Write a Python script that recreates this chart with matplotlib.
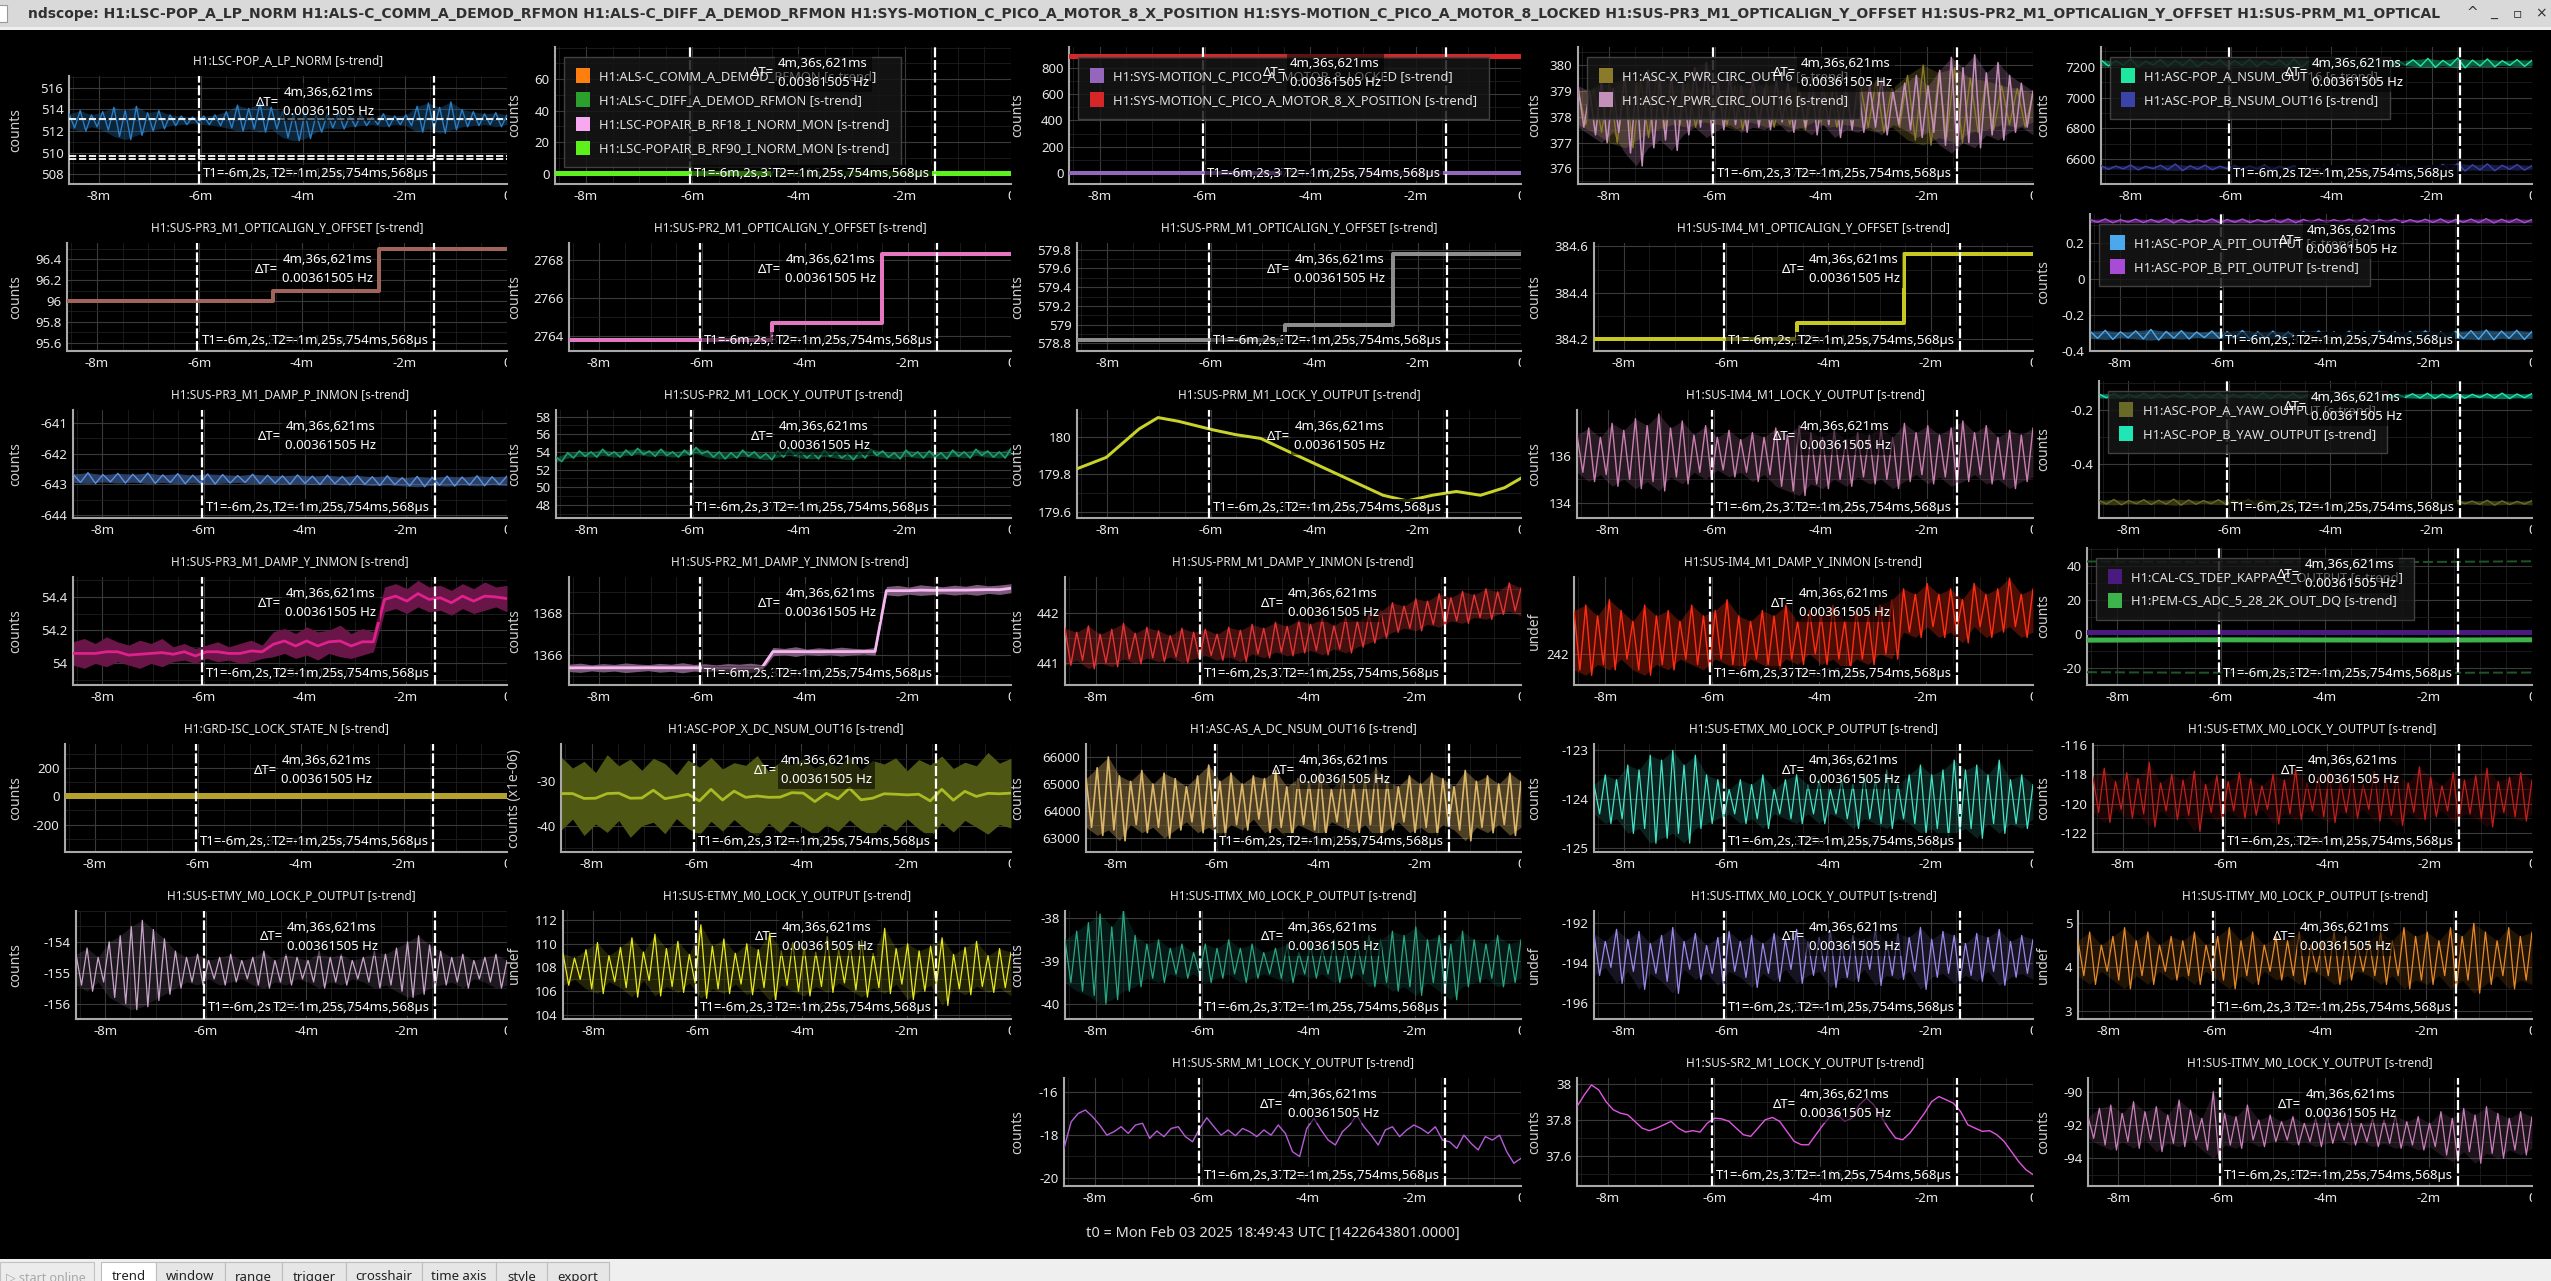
import numpy as np
import matplotlib
matplotlib.use('Agg')
import matplotlib.pyplot as plt
from matplotlib.patches import Rectangle, Patch
from matplotlib.ticker import FixedLocator, MultipleLocator, FuncFormatter
from matplotlib.transforms import Bbox, TransformedBbox

plt.rcParams['font.family'] = ['Noto Sans', 'DejaVu Sans']
plt.rcParams['axes.unicode_minus'] = False

# ---------------- data ----------------
t_span = (-515, 0)          # seconds before t0
x_ticks = [-480, -360, -240, -120, 0]
x_tick_labels = ['-8m', '-6m', '-4m', '-2m', '']
t1_cursor = -362.4
t2_cursor = -85.75
dt_label = '4m,36s,621ms\n0.00361505 Hz'
t1_label = 'T1=-6m,2s,375ms,162µs'
t2_label = 'T2=-1m,25s,754ms,568µs'
t0_label = 't0 = Mon Feb 03 2025 18:49:43 UTC [1422643801.0000]'
window_title = ('ndscope: H1:LSC-POP_A_LP_NORM H1:ALS-C_COMM_A_DEMOD_RFMON H1:ALS-C_DIFF_A_DEMOD_RFMON '
                'H1:SYS-MOTION_C_PICO_A_MOTOR_8_X_POSITION H1:SYS-MOTION_C_PICO_A_MOTOR_8_LOCKED '
                'H1:SUS-PR3_M1_OPTICALIGN_Y_OFFSET H1:SUS-PR2_M1_OPTICALIGN_Y_OFFSET H1:SUS-PRM_M1_OPTICAL')
tab_names = ['trend', 'window', 'range', 'trigger', 'crosshair', 'time axis', 'style', 'export']

# row 1
pop_a_lp_max = [513.6, 513.9, 513.5, 513.8, 514.2, 513.9, 514.3, 513.7, 513.9, 513.5,
                513.4, 513.3, 513.4, 513.5, 513.8, 514.4, 514.1, 514.6, 514.2, 513.8,
                513.6, 513.7, 513.5, 513.6, 513.7, 513.4, 513.5, 513.3, 513.6, 513.4,
                513.5, 514.3, 514.6, 514.2, 514.7, 514.0, 513.8, 513.6, 513.7, 513.5]
pop_a_lp_min = [512.3, 512.0, 512.4, 512.1, 511.5, 511.2, 511.6, 512.0, 512.2, 512.5,
                512.6, 512.7, 512.6, 512.5, 512.3, 512.0, 512.2, 511.9, 512.2, 511.4,
                511.1, 511.3, 511.9, 512.3, 512.2, 512.4, 512.5, 512.6, 512.4, 512.6,
                512.5, 511.9, 512.2, 511.8, 512.1, 512.4, 512.5, 512.6, 512.4, 512.6]
pop_a_lp_ycursors = [513.1, 509.65, 509.45]

als_comm = [0.3, 0.3, 0.3, 0.3]
als_diff = [0.3, 0.3, 0.3, 0.3]
popair_rf18 = [0.3, 0.3, 0.3, 0.3]
popair_rf90 = [0.3, 0.3, 0.3, 0.3]

pico_locked = [0.0, 0.0, 0.0, 0.0]
pico_x_position = [890.0, 890.0, 890.0, 890.0]

x_pwr_max = [379.0, 379.1, 379.3, 379.5, 379.4, 379.6, 379.2, 379.3, 379.1, 379.0,
             379.2, 379.1, 379.3, 379.0, 379.2, 379.1, 379.3, 379.0, 379.2, 379.4,
             379.1, 379.6, 380.0, 379.7, 379.9, 379.5, 379.4, 379.2, 379.1, 378.9]
x_pwr_min = [377.7, 377.4, 377.0, 376.8, 377.2, 377.5, 377.7, 377.6, 377.8, 377.7,
             377.5, 377.8, 377.6, 377.7, 377.5, 377.8, 377.6, 377.7, 377.6, 377.4,
             377.6, 377.1, 376.9, 377.2, 377.0, 377.4, 377.5, 377.7, 377.6, 377.8]
y_pwr_max = [379.2, 379.0, 379.4, 379.1, 379.6, 379.3, 379.8, 379.5, 379.7, 379.3,
             379.9, 380.1, 379.4, 379.6, 379.2, 379.5, 379.1, 379.4, 379.3, 379.0,
             379.5, 379.2, 379.6, 379.1, 379.4, 379.2, 379.5, 379.0, 379.3, 379.6,
             379.2, 379.8, 380.3, 379.9, 380.4, 379.7, 380.1, 379.6, 379.3, 379.0]
y_pwr_min = [377.6, 377.3, 377.0, 377.4, 376.6, 376.1, 376.8, 377.1, 376.7, 377.3,
             377.6, 377.2, 377.5, 377.7, 377.4, 377.6, 377.5, 377.8, 377.4, 377.6,
             377.3, 377.7, 377.2, 377.5, 377.4, 377.6, 377.3, 377.7, 377.5, 377.2,
             377.4, 376.9, 376.6, 377.0, 376.8, 377.3, 377.1, 377.4, 377.6, 377.3]

pop_a_nsum_max = [7245, 7240, 7252, 7238, 7248, 7242, 7250, 7237, 7246, 7241,
                  7249, 7239, 7244, 7251, 7240, 7247, 7238, 7245, 7243, 7250,
                  7239, 7246, 7255, 7242, 7258, 7244, 7251, 7240, 7247, 7243]
pop_a_nsum_min = [7205, 7210, 7200, 7212, 7203, 7208, 7199, 7211, 7204, 7209,
                  7201, 7212, 7206, 7198, 7210, 7203, 7211, 7205, 7207, 7199,
                  7211, 7204, 7196, 7208, 7193, 7206, 7200, 7210, 7203, 7207]
pop_b_nsum_max = [6558, 6555, 6562, 6553, 6560, 6568, 6557, 6561, 6554, 6559,
                  6556, 6562, 6553, 6558, 6555, 6560, 6557, 6554, 6559, 6556,
                  6561, 6555, 6558, 6566, 6572, 6563, 6569, 6560, 6565, 6558]
pop_b_nsum_min = [6533, 6536, 6529, 6538, 6531, 6525, 6534, 6530, 6537, 6532,
                  6535, 6529, 6538, 6533, 6536, 6531, 6534, 6537, 6532, 6535,
                  6530, 6536, 6533, 6527, 6522, 6530, 6524, 6533, 6528, 6535]

# row 2 (offset steps)
pr3_offset_t = [-515, -274, -150, 0]
pr3_offset_v = [96.0, 96.1, 96.5, 96.5]
pr2_offset_t = [-515, -278, -150, 0]
pr2_offset_v = [2763.8, 2764.7, 2768.3, 2768.3]
prm_offset_t = [-515, -274, -148, 0]
prm_offset_v = [578.835, 579.0, 579.75, 579.75]
im4_offset_t = [-515, -277, -151, 0]
im4_offset_v = [384.2, 384.27, 384.565, 384.565]

pop_b_pit_max = [0.330, 0.333, 0.329, 0.332, 0.330, 0.334, 0.331, 0.329, 0.333, 0.330,
                 0.332, 0.329, 0.331, 0.333, 0.330, 0.332, 0.329, 0.331, 0.334, 0.330,
                 0.332, 0.329, 0.331, 0.333, 0.330, 0.332, 0.334, 0.331, 0.333, 0.330]
pop_b_pit_min = [0.314, 0.311, 0.315, 0.312, 0.314, 0.310, 0.313, 0.315, 0.311, 0.314,
                 0.312, 0.315, 0.313, 0.311, 0.314, 0.312, 0.315, 0.313, 0.310, 0.314,
                 0.312, 0.315, 0.313, 0.311, 0.314, 0.312, 0.310, 0.313, 0.311, 0.314]
pop_a_pit_max = [-0.290, -0.285, -0.293, -0.288, -0.280, -0.291, -0.287, -0.294, -0.289, -0.292,
                 -0.286, -0.293, -0.290, -0.295, -0.291, -0.288, -0.294, -0.290, -0.292, -0.289,
                 -0.293, -0.291, -0.288, -0.294, -0.290, -0.287, -0.283, -0.289, -0.285, -0.291]
pop_a_pit_min = [-0.330, -0.336, -0.327, -0.333, -0.340, -0.329, -0.334, -0.326, -0.331, -0.328,
                 -0.335, -0.327, -0.330, -0.325, -0.329, -0.333, -0.326, -0.331, -0.328, -0.332,
                 -0.327, -0.330, -0.334, -0.326, -0.331, -0.335, -0.338, -0.330, -0.336, -0.329]

# row 3
pr3_damp_p_max = [-642.66, -642.62, -642.68, -642.64, -642.67, -642.63, -642.69, -642.65, -642.70, -642.66,
                  -642.68, -642.71, -642.67, -642.70, -642.72, -642.69, -642.73, -642.70, -642.74, -642.71,
                  -642.75, -642.72, -642.78, -642.74, -642.77, -642.73, -642.76, -642.72, -642.75, -642.73]
pr3_damp_p_min = [-642.94, -642.97, -642.92, -642.96, -642.93, -642.97, -642.94, -642.98, -642.95, -642.99,
                  -642.96, -642.94, -642.98, -642.96, -643.00, -642.97, -643.01, -642.98, -643.02, -643.00,
                  -643.04, -643.01, -643.05, -643.08, -643.03, -643.06, -643.02, -643.05, -643.01, -643.04]
pr2_lock_y_max = [53.4, 53.9, 54.1, 54.0, 54.3, 54.0, 54.2, 54.4, 54.1, 54.3,
                  54.0, 54.2, 54.5, 54.1, 54.0, 53.9, 54.2, 54.0, 53.8, 54.1,
                  54.3, 54.0, 53.9, 54.2, 54.0, 53.8, 54.0, 54.3, 54.1, 53.9,
                  54.2, 54.0, 54.1, 53.9, 54.2, 54.0, 54.3, 54.1, 54.0, 54.4]
pr2_lock_y_min = [52.9, 53.3, 53.5, 53.4, 53.6, 53.4, 53.6, 53.7, 53.5, 53.6,
                  53.4, 53.6, 53.8, 53.4, 53.2, 53.3, 53.5, 53.3, 53.1, 53.4,
                  53.6, 53.3, 53.2, 53.5, 53.3, 53.1, 53.3, 53.6, 53.4, 53.2,
                  53.5, 53.3, 53.4, 53.2, 53.5, 53.3, 53.6, 53.4, 53.3, 53.7]
prm_lock_y_t = [-515, -481, -443, -421, -397, -358, -331, -302, -274, -236,
                -198, -160, -132, -103, -75, -47, -19, 0]
prm_lock_y_v = [179.83, 179.89, 180.04, 180.10, 180.08, 180.036, 180.01, 179.99, 179.93, 179.85,
                179.77, 179.69, 179.66, 179.69, 179.71, 179.69, 179.73, 179.78]
im4_lock_y_max = [136.9, 137.2, 136.8, 137.4, 137.1, 137.6, 137.3, 137.8, 137.2, 137.5,
                  136.9, 137.3, 136.8, 137.1, 136.7, 137.0, 136.8, 137.2, 136.9, 137.3,
                  137.0, 136.8, 137.1, 136.7, 137.0, 136.9, 137.2, 136.8, 137.4, 137.0,
                  137.3, 136.9, 137.2, 137.5, 137.0, 137.3, 136.8, 137.1, 136.9, 137.2]
im4_lock_y_min = [135.3, 134.9, 135.2, 134.7, 135.0, 134.6, 134.9, 134.5, 135.1, 134.8,
                  135.3, 135.0, 135.4, 135.1, 135.3, 134.9, 135.2, 134.7, 134.5, 134.3,
                  134.8, 134.6, 135.0, 134.7, 135.1, 134.8, 135.0, 134.6, 134.9, 135.2,
                  134.8, 135.1, 134.7, 134.9, 135.2, 134.8, 135.0, 134.6, 134.9, 135.1]
pop_b_yaw_max = [-0.142, -0.140, -0.143, -0.139, -0.141, -0.144, -0.140, -0.142, -0.139, -0.143,
                 -0.141, -0.138, -0.142, -0.140, -0.144, -0.141, -0.143, -0.139, -0.142, -0.140,
                 -0.143, -0.141, -0.139, -0.142, -0.140, -0.143, -0.141, -0.139, -0.142, -0.140]
pop_b_yaw_min = [-0.156, -0.158, -0.155, -0.159, -0.157, -0.154, -0.158, -0.156, -0.159, -0.155,
                 -0.157, -0.160, -0.156, -0.158, -0.154, -0.157, -0.155, -0.159, -0.156, -0.158,
                 -0.155, -0.157, -0.159, -0.156, -0.158, -0.155, -0.157, -0.159, -0.156, -0.158]
pop_a_yaw_max = [-0.531, -0.528, -0.532, -0.529, -0.531, -0.527, -0.530, -0.532, -0.529, -0.531,
                 -0.528, -0.530, -0.533, -0.530, -0.532, -0.529, -0.531, -0.533, -0.530, -0.532,
                 -0.534, -0.531, -0.533, -0.535, -0.532, -0.534, -0.531, -0.533, -0.535, -0.532]
pop_a_yaw_min = [-0.545, -0.548, -0.544, -0.547, -0.545, -0.549, -0.546, -0.544, -0.547, -0.545,
                 -0.548, -0.546, -0.543, -0.546, -0.544, -0.547, -0.545, -0.543, -0.546, -0.544,
                 -0.542, -0.545, -0.543, -0.541, -0.544, -0.546, -0.549, -0.547, -0.545, -0.548]

# row 4
pr3_damp_y_max = [54.13, 54.15, 54.12, 54.16, 54.13, 54.11, 54.14, 54.12, 54.15, 54.10,
                  54.12, 54.09, 54.11, 54.13, 54.10, 54.12, 54.14, 54.11, 54.19, 54.21,
                  54.18, 54.22, 54.19, 54.20, 54.23, 54.18, 54.21, 54.19, 54.46, 54.48,
                  54.45, 54.50, 54.46, 54.47, 54.44, 54.48, 54.45, 54.49, 54.46, 54.47]
pr3_damp_y_min = [53.99, 53.97, 54.00, 53.98, 54.01, 53.99, 53.97, 54.00, 53.98, 54.01,
                  54.02, 54.00, 54.03, 54.01, 54.02, 54.00, 54.01, 54.03, 54.04, 54.06,
                  54.03, 54.05, 54.02, 54.06, 54.04, 54.03, 54.05, 54.07, 54.31, 54.33,
                  54.30, 54.34, 54.31, 54.32, 54.29, 54.33, 54.30, 54.32, 54.34, 54.31]
pr2_damp_y_max = [1365.55, 1365.60, 1365.52, 1365.58, 1365.54, 1365.61, 1365.56, 1365.53, 1365.59, 1365.55,
                  1365.62, 1365.54, 1365.57, 1365.52, 1365.58, 1365.55, 1365.60, 1365.53, 1366.35, 1366.30,
                  1366.38, 1366.27, 1366.33, 1366.29, 1366.36, 1366.31, 1366.28, 1366.34, 1369.25, 1369.30,
                  1369.22, 1369.33, 1369.27, 1369.24, 1369.31, 1369.26, 1369.35, 1369.28, 1369.32, 1369.38]
pr2_damp_y_min = [1365.20, 1365.16, 1365.23, 1365.18, 1365.22, 1365.15, 1365.20, 1365.24, 1365.17, 1365.21,
                  1365.14, 1365.22, 1365.19, 1365.23, 1365.17, 1365.21, 1365.16, 1365.22, 1365.95, 1366.00,
                  1365.92, 1366.02, 1365.96, 1366.01, 1365.94, 1365.99, 1366.03, 1365.97, 1368.85, 1368.80,
                  1368.88, 1368.82, 1368.86, 1368.90, 1368.84, 1368.89, 1368.83, 1368.92, 1368.87, 1368.95]
prm_damp_y_max = [441.70, 441.62, 441.75, 441.58, 441.68, 441.80, 441.60, 441.72, 441.65, 441.55,
                  441.70, 441.62, 441.68, 441.58, 441.72, 441.66, 441.78, 441.70, 441.82, 441.74,
                  441.86, 441.78, 441.90, 441.75, 441.92, 441.84, 441.98, 442.05, 442.22, 442.15,
                  442.30, 442.25, 442.40, 442.32, 442.45, 442.38, 442.50, 442.44, 442.62, 442.52]
prm_damp_y_min = [440.95, 441.05, 440.88, 441.00, 440.92, 441.08, 440.98, 441.10, 441.02, 441.12,
                  441.00, 441.08, 441.15, 441.05, 441.12, 441.02, 441.18, 441.10, 441.22, 441.14,
                  441.20, 441.25, 441.16, 441.28, 441.20, 441.32, 441.40, 441.50, 441.62, 441.70,
                  441.65, 441.78, 441.72, 441.85, 441.80, 441.92, 441.88, 441.98, 442.05, 441.95]
im4_damp_y_max = [242.08, 242.09, 242.07, 242.10, 242.08, 242.06, 242.09, 242.07, 242.08, 242.06,
                  242.09, 242.07, 242.08, 242.10, 242.07, 242.06, 242.08, 242.07, 242.09, 242.06,
                  242.08, 242.07, 242.09, 242.06, 242.08, 242.07, 242.09, 242.10, 242.12, 242.11,
                  242.13, 242.11, 242.12, 242.10, 242.13, 242.11, 242.12, 242.14, 242.11, 242.12]
im4_damp_y_min = [241.97, 241.96, 241.98, 241.97, 241.99, 241.97, 241.96, 241.98, 241.97, 241.99,
                  241.98, 241.97, 241.99, 241.98, 241.97, 241.99, 241.98, 241.97, 241.99, 241.98,
                  242.00, 241.98, 241.99, 241.97, 241.99, 241.98, 242.00, 241.99, 242.04, 242.03,
                  242.05, 242.03, 242.04, 242.02, 242.05, 242.03, 242.04, 242.05, 242.03, 242.04]
kappa_c = [1.2, 1.2, 1.2, 1.2, 1.2]
pem_adc_mean = [-3.6, -3.4, -3.5, -3.6, -3.4]
pem_adc_max = [42.5, 42.1, 42.4, 42.2, 42.6]
pem_adc_min = [-22.4, -22.7, -22.5, -22.8, -22.6]

# row 5
grd_state = [0, 0, 0, 0, 0]
pop_x_dc_max = [-24.5, -27.0, -25.5, -28.0, -24.0, -26.5, -25.0, -27.5, -24.8, -26.0,
                -28.5, -25.2, -26.8, -24.6, -27.2, -25.8, -26.4, -24.2, -27.8, -25.5,
                -26.2, -24.9, -27.0, -25.6, -26.6, -24.4, -27.4, -25.3, -26.1, -24.7,
                -27.6, -25.1, -26.3, -24.3, -27.1, -25.7, -26.5, -23.5, -25.9, -24.8]
pop_x_dc_min = [-41.0, -38.5, -42.2, -39.6, -41.5, -38.8, -42.6, -40.0, -39.2, -41.8,
                -38.4, -40.6, -42.0, -39.0, -41.2, -38.6, -40.8, -42.4, -39.4, -41.6,
                -38.9, -40.4, -42.1, -39.8, -41.3, -38.7, -40.9, -42.3, -39.5, -41.1,
                -38.5, -40.7, -42.5, -39.3, -41.4, -38.8, -40.3, -41.9, -39.7, -40.5]
as_a_dc_max = [65200, 65600, 66000, 65300, 65100, 65500, 65000, 65400, 65200, 64900,
               65300, 65700, 65100, 65400, 65000, 65300, 65200, 65500, 64900, 65200,
               65100, 65400, 64800, 65300, 65000, 65200, 65600, 65100, 64900, 65300,
               65000, 65400, 65200, 64900, 65500, 65100, 65300, 65000, 65400, 65100]
as_a_dc_min = [63400, 63100, 63300, 62900, 63500, 63200, 63400, 63000, 63300, 63600,
               63200, 63400, 63100, 63500, 63300, 63700, 63200, 63400, 63000, 63500,
               63300, 63100, 63600, 63400, 63200, 63500, 63000, 63300, 63600, 63200,
               63400, 63100, 63500, 63300, 62900, 63400, 63200, 63500, 63100, 63400]
etmx_p_max = [-123.7, -123.5, -123.6, -123.3, -123.4, -123.1, -123.2, -123.0, -123.3, -123.1,
              -123.5, -123.6, -123.8, -123.6, -123.7, -123.5, -123.8, -123.6, -123.5, -123.7,
              -123.6, -123.8, -123.6, -123.7, -123.5, -123.6, -123.4, -123.7, -123.5, -123.3,
              -123.5, -123.4, -123.2, -123.4, -123.3, -123.5, -123.2, -123.6, -123.5, -123.7]
etmx_p_min = [-124.3, -124.5, -124.4, -124.7, -124.6, -124.9, -124.8, -124.7, -124.9, -124.6,
              -124.5, -124.4, -124.3, -124.5, -124.4, -124.6, -124.3, -124.4, -124.5, -124.3,
              -124.5, -124.3, -124.4, -124.6, -124.4, -124.5, -124.6, -124.4, -124.5, -124.7,
              -124.6, -124.8, -124.7, -124.6, -124.8, -124.5, -124.7, -124.5, -124.6, -124.4]
etmx_y_max = [-118.2, -117.6, -118.5, -117.9, -118.3, -117.2, -118.6, -118.0, -118.4, -117.8,
              -118.7, -118.1, -118.5, -117.9, -118.3, -118.8, -118.0, -118.4, -117.7, -118.6,
              -118.2, -117.9, -118.5, -118.1, -118.7, -117.8, -118.3, -118.0, -118.6, -117.5,
              -118.2, -118.8, -117.9, -118.4, -118.1, -117.6, -118.5, -118.2, -117.9, -118.4]
etmx_y_min = [-120.6, -121.3, -120.4, -121.0, -120.7, -121.6, -120.5, -121.1, -120.8, -121.9,
              -120.6, -121.2, -120.5, -121.0, -120.8, -120.4, -121.4, -120.7, -121.1, -120.5,
              -120.9, -121.3, -120.6, -121.0, -120.4, -121.2, -120.8, -121.5, -120.6, -121.1,
              -120.9, -120.5, -121.3, -120.7, -121.0, -121.6, -120.6, -120.9, -121.2, -120.7]

# row 6
etmy_p_max = [-154.4, -154.2, -154.5, -154.0, -153.8, -153.5, -153.3, -153.6, -153.9, -154.3,
              -154.5, -154.4, -154.6, -154.5, -154.4, -154.6, -154.5, -154.3, -154.6, -154.4,
              -154.5, -154.6, -154.3, -154.5, -154.4, -154.6, -154.5, -154.3, -154.4, -154.2,
              -154.0, -153.8, -154.1, -154.3, -154.5, -154.4, -154.6, -154.5, -154.4, -154.6]
etmy_p_min = [-155.4, -155.6, -155.3, -155.8, -156.0, -156.2, -156.1, -155.9, -155.7, -155.5,
              -155.3, -155.4, -155.2, -155.4, -155.3, -155.2, -155.4, -155.5, -155.3, -155.4,
              -155.2, -155.3, -155.5, -155.3, -155.4, -155.2, -155.3, -155.5, -155.4, -155.6,
              -155.8, -155.7, -155.5, -155.4, -155.3, -155.5, -155.2, -155.3, -155.5, -155.4]
etmy_y_max = [109.2, 108.8, 109.5, 110.1, 109.0, 109.7, 110.5, 109.3, 110.8, 109.6,
              110.2, 109.1, 111.6, 109.8, 110.4, 109.2, 110.0, 109.5, 110.9, 109.4,
              110.1, 109.7, 109.3, 110.6, 109.5, 109.9, 110.3, 109.2, 111.3, 109.6,
              110.0, 109.4, 109.8, 110.5, 109.1, 109.7, 110.2, 109.0, 109.6, 109.3]
etmy_y_min = [106.5, 107.0, 106.2, 105.8, 106.8, 106.3, 105.5, 106.9, 105.6, 106.4,
              105.9, 106.7, 105.4, 106.2, 105.8, 106.6, 105.7, 106.3, 105.2, 106.5,
              106.0, 105.6, 106.4, 105.9, 106.7, 106.1, 105.5, 106.3, 105.8, 106.6,
              105.3, 106.0, 106.5, 104.8, 106.2, 105.7, 106.4, 105.9, 106.3, 105.6]
itmx_p_max = [-38.5, -38.3, -38.1, -37.9, -38.2, -37.8, -38.4, -38.6, -38.5, -38.7,
              -38.6, -38.8, -38.6, -38.7, -38.5, -38.7, -38.6, -38.8, -38.7, -38.6,
              -38.8, -38.6, -38.7, -38.5, -38.7, -38.6, -38.4, -38.5, -38.3, -38.4,
              -38.2, -38.5, -38.4, -38.6, -38.3, -38.5, -38.6, -38.4, -38.6, -38.5]
itmx_p_min = [-39.5, -39.7, -39.8, -40.0, -39.9, -39.7, -39.6, -39.4, -39.5, -39.3,
              -39.4, -39.3, -39.5, -39.4, -39.3, -39.5, -39.4, -39.3, -39.4, -39.5,
              -39.3, -39.4, -39.3, -39.5, -39.4, -39.3, -39.6, -39.5, -39.7, -39.6,
              -39.8, -39.5, -39.7, -39.9, -39.6, -39.5, -39.4, -39.6, -39.5, -39.4]
itmx_y_max = [-192.5, -192.9, -192.3, -192.8, -192.4, -193.0, -192.6, -192.2, -192.9, -192.5,
              -193.1, -192.7, -192.4, -192.9, -192.6, -193.0, -192.5, -192.8, -192.3, -192.9,
              -192.7, -192.4, -193.0, -192.6, -192.8, -192.3, -192.9, -192.5, -192.7, -192.2,
              -192.8, -192.4, -192.6, -193.0, -192.5, -192.7, -192.3, -192.9, -192.6, -192.8]
itmx_y_min = [-194.6, -194.2, -195.0, -194.4, -195.3, -194.5, -194.9, -195.5, -194.3, -194.8,
              -194.5, -195.1, -194.4, -194.7, -195.2, -194.5, -194.9, -194.3, -195.0, -194.6,
              -194.4, -195.2, -194.7, -194.9, -194.3, -195.1, -194.6, -194.8, -194.4, -195.3,
              -194.7, -194.5, -195.0, -194.6, -194.9, -194.4, -195.1, -194.7, -194.5, -194.8]
itmy_p_max = [4.6, 4.8, 4.5, 4.7, 4.9, 4.6, 4.8, 4.5, 4.7, 4.6,
              4.8, 4.5, 4.7, 4.9, 4.6, 4.8, 4.5, 4.7, 4.6, 4.8,
              4.5, 4.6, 4.8, 4.7, 4.5, 4.6, 4.8, 4.6, 4.9, 4.7,
              4.8, 4.6, 4.9, 4.7, 5.0, 4.8, 4.6, 4.9, 4.7, 4.8]
itmy_p_min = [3.8, 3.6, 3.9, 3.7, 3.5, 3.8, 3.6, 3.9, 3.7, 3.8,
              3.6, 3.9, 3.7, 3.5, 3.8, 3.6, 3.9, 3.7, 3.8, 3.6,
              3.9, 3.8, 3.6, 3.7, 3.9, 3.8, 3.6, 3.8, 3.5, 3.7,
              3.6, 3.8, 3.5, 3.7, 3.4, 3.6, 3.8, 3.5, 3.7, 3.6]

# row 7
srm_lock_y = [-18.64, -17.40, -17.01, -16.85, -17.16, -17.55, -18.02, -17.86, -17.63, -17.94,
              -17.55, -17.47, -18.17, -17.83, -18.09, -17.71, -17.63, -18.09, -18.33, -17.71,
              -17.21, -17.63, -18.02, -17.78, -18.05, -17.71, -17.86, -18.09, -17.78, -18.02,
              -17.55, -17.94, -18.79, -19.02, -17.71, -17.24, -17.78, -18.25, -18.48, -17.86,
              -17.55, -17.09, -17.63, -18.02, -18.48, -17.78, -17.63, -18.09, -17.78, -17.55,
              -17.71, -17.94, -17.63, -18.25, -18.33, -18.64, -18.02, -18.40, -18.71, -18.09,
              -18.25, -18.02, -18.79, -19.33, -19.10]
sr2_lock_y = [37.875, 37.940, 37.996, 37.968, 37.903, 37.857, 37.838, 37.829, 37.792, 37.754,
              37.740, 37.754, 37.773, 37.792, 37.754, 37.732, 37.740, 37.732, 37.782, 37.810,
              37.806, 37.792, 37.754, 37.717, 37.708, 37.754, 37.801, 37.814, 37.792, 37.736,
              37.680, 37.661, 37.661, 37.717, 37.773, 37.820, 37.829, 37.792, 37.810, 37.885,
              37.922, 37.885, 37.820, 37.754, 37.699, 37.689, 37.727, 37.782, 37.838, 37.903,
              37.931, 37.913, 37.894, 37.847, 37.773, 37.754, 37.736, 37.740, 37.717, 37.680,
              37.624, 37.568, 37.522, 37.494]
itmy_y_max = [-91.5, -91.0, -90.8, -91.3, -90.6, -91.2, -90.9, -91.4, -90.5, -91.1,
              -91.6, -90.0, -91.3, -91.5, -90.8, -91.7, -91.4, -91.8, -91.5, -91.9,
              -91.6, -91.4, -91.8, -91.5, -91.9, -91.6, -91.7, -91.4, -91.8, -91.5,
              -91.9, -91.2, -91.6, -91.0, -91.4, -90.9, -91.3, -91.6, -91.2, -91.5]
itmy_y_min = [-92.8, -93.2, -93.5, -93.0, -93.4, -92.9, -93.6, -93.1, -93.3, -92.9,
              -93.5, -94.0, -93.2, -93.4, -92.9, -93.3, -93.0, -92.9, -93.2, -93.0,
              -93.3, -93.1, -92.9, -93.2, -93.0, -93.3, -93.1, -93.4, -93.2, -93.5,
              -93.3, -93.8, -94.2, -93.6, -94.3, -93.7, -94.0, -93.5, -93.8, -93.4]

# ---------------- figure ----------------
W, H = 2551, 1281
fig = plt.figure(figsize=(W / 100, H / 100), dpi=100, facecolor='black')

bg = fig.add_axes([0, 0, 1, 1])
bg.set_xlim(0, W)
bg.set_ylim(H, 0)
bg.axis('off')

# pixel layout of the plot grid
col_right = [507, 1011, 1521, 2033, 2532]
row_top = [76, 243, 410, 577, 744, 911, 1078]
ylabel_x = [23, 522, 1025, 1542, 2051]
panel_left = [[69, 555, 1069, 1578, 2101],
              [67, 569, 1077, 1594, 2090],
              [73, 556, 1077, 1577, 2099],
              [73, 569, 1065, 1574, 2087],
              [65, 561, 1086, 1594, 2093],
              [76, 563, 1065, 1594, 2078],
              [None, None, 1064, 1577, 2088]]
AX_H = 108
PX = 0.72  # points per pixel at 100 dpi


def tgrid(n):
    return np.linspace(t_span[0], t_span[1], n)


def draw_osc(ax, lo, hi, color, lw=0.9, fill_alpha=0.15):
    # s-trend min/max envelope, drawn as the oscillating trace it shows on screen
    lo = np.asarray(lo, float)
    hi = np.asarray(hi, float)
    t = tgrid(len(lo))
    dt = t[1] - t[0]
    x = np.empty(2 * len(t))
    y = np.empty(2 * len(t))
    x[0::2], x[1::2] = t, t + dt / 2
    y[0::2], y[1::2] = hi, lo
    ax.fill_between(t, lo, hi, color=color, alpha=fill_alpha, lw=0, zorder=2)
    ax.plot(x, y, color=color, lw=lw, zorder=3)


def draw_band(ax, lo, hi, color, band, lw=2.0):
    lo = np.asarray(lo, float)
    hi = np.asarray(hi, float)
    t = tgrid(len(lo))
    ax.fill_between(t, lo, hi, color=band, lw=0, zorder=2)
    ax.plot(t, (lo + hi) / 2, color=color, lw=lw, zorder=3)


def draw_line(ax, v, color, lw=1.0, t=None, ls='-'):
    t = tgrid(len(v)) if t is None else t
    ax.plot(t, v, color=color, lw=lw, ls=ls, zorder=3)


def draw_step(ax, t, v, color, lw):
    ax.step(t, v, where='post', color=color, lw=lw, zorder=3)


panels = [
    # row 1
    dict(r=0, c=0, title='H1:LSC-POP_A_LP_NORM [s-trend]', ylim=(507.1, 517.1),
         yticks=[508, 510, 512, 514, 516], ylabel='counts',
         draw=lambda ax: (draw_osc(ax, pop_a_lp_min, pop_a_lp_max, '#2b7cc0', 1.0, 0.3),
                          [ax.axhline(y, color='white', lw=1.3, dashes=(4, 1.5), zorder=4)
                           for y in pop_a_lp_ycursors])),
    dict(r=0, c=1, ylim=(-6.5, 80.4), yticks=[0, 20, 40, 60], ylabel='counts',
         legend=[('H1:ALS-C_COMM_A_DEMOD_RFMON [s-trend]', '#ff7f0e'),
                 ('H1:ALS-C_DIFF_A_DEMOD_RFMON [s-trend]', '#2ca02c'),
                 ('H1:LSC-POPAIR_B_RF18_I_NORM_MON [s-trend]', '#f7a8f0'),
                 ('H1:LSC-POPAIR_B_RF90_I_NORM_MON [s-trend]', '#5ef01a')],
         draw=lambda ax: (draw_line(ax, als_comm, '#ff7f0e', 4 * PX),
                          draw_line(ax, als_diff, '#2ca02c', 4 * PX),
                          draw_line(ax, popair_rf18, '#f7a8f0', 4 * PX),
                          draw_line(ax, popair_rf90, '#5ef01a', 5 * PX))),
    dict(r=0, c=2, ylim=(-85, 960), yticks=[0, 200, 400, 600, 800], ylabel='counts',
         legend=[('H1:SYS-MOTION_C_PICO_A_MOTOR_8_LOCKED [s-trend]', '#9467bd'),
                 ('H1:SYS-MOTION_C_PICO_A_MOTOR_8_X_POSITION [s-trend]', '#d62728')],
         draw=lambda ax: (draw_line(ax, pico_locked, '#9467bd', 4 * PX),
                          draw_line(ax, pico_x_position, '#d62728', 5 * PX))),
    dict(r=0, c=3, ylim=(375.4, 380.7), yticks=[376, 377, 378, 379, 380], ylabel='counts',
         legend=[('H1:ASC-X_PWR_CIRC_OUT16 [s-trend]', '#8a7a2a'),
                 ('H1:ASC-Y_PWR_CIRC_OUT16 [s-trend]', '#c48fb8')],
         draw=lambda ax: (draw_osc(ax, x_pwr_min, x_pwr_max, '#8a7a2a', 1.0, 0.3),
                          draw_osc(ax, y_pwr_min, y_pwr_max, '#c48fb8', 1.1, 0.25))),
    dict(r=0, c=4, ylim=(6438, 7329), yticks=[6600, 6800, 7000, 7200], ylabel='counts',
         legend=[('H1:ASC-POP_A_NSUM_OUT16 [s-trend]', '#1ee8a0'),
                 ('H1:ASC-POP_B_NSUM_OUT16 [s-trend]', '#3a44a8')],
         draw=lambda ax: (draw_osc(ax, pop_a_nsum_min, pop_a_nsum_max, '#1ee8a0', 1.0, 0.4),
                          draw_osc(ax, pop_b_nsum_min, pop_b_nsum_max, '#3a44a8', 1.0, 0.4))),
    # row 2
    dict(r=1, c=0, title='H1:SUS-PR3_M1_OPTICALIGN_Y_OFFSET [s-trend]', ylim=(95.52, 96.556),
         yticks=[95.6, 95.8, 96.0, 96.2, 96.4], ylabel='counts',
         draw=lambda ax: draw_step(ax, pr3_offset_t, pr3_offset_v, '#a0645a', 4 * PX)),
    dict(r=1, c=1, title='H1:SUS-PR2_M1_OPTICALIGN_Y_OFFSET [s-trend]', ylim=(2763.2, 2768.9),
         yticks=[2764, 2766, 2768], ylabel='counts',
         draw=lambda ax: draw_step(ax, pr2_offset_t, pr2_offset_v, '#e377c2', 4 * PX)),
    dict(r=1, c=2, title='H1:SUS-PRM_M1_OPTICALIGN_Y_OFFSET [s-trend]', ylim=(578.72, 579.87),
         yticks=[578.8, 579.0, 579.2, 579.4, 579.6, 579.8], ylabel='counts',
         draw=lambda ax: draw_step(ax, prm_offset_t, prm_offset_v, '#8c8c8c', 4 * PX)),
    dict(r=1, c=3, title='H1:SUS-IM4_M1_OPTICALIGN_Y_OFFSET [s-trend]', ylim=(384.15, 384.614),
         yticks=[384.2, 384.4, 384.6], ylabel='counts',
         draw=lambda ax: draw_step(ax, im4_offset_t, im4_offset_v, '#c8c820', 4 * PX)),
    dict(r=1, c=4, ylim=(-0.40, 0.36), yticks=[-0.4, -0.2, 0.0, 0.2], ylabel='counts',
         legend=[('H1:ASC-POP_A_PIT_OUTPUT [s-trend]', '#4ba8ec'),
                 ('H1:ASC-POP_B_PIT_OUTPUT [s-trend]', '#a84bd6')],
         draw=lambda ax: (draw_osc(ax, pop_a_pit_min, pop_a_pit_max, '#4ba8ec', 1.0, 0.4),
                          draw_osc(ax, pop_b_pit_min, pop_b_pit_max, '#a84bd6', 1.0, 0.5))),
    # row 3
    dict(r=2, c=0, title='H1:SUS-PR3_M1_DAMP_P_INMON [s-trend]', ylim=(-644.1, -640.57),
         yticks=[-644, -643, -642, -641], ylabel='counts',
         draw=lambda ax: draw_osc(ax, pr3_damp_p_min, pr3_damp_p_max, '#5c8fe0', 1.0, 0.45)),
    dict(r=2, c=1, title='H1:SUS-PR2_M1_LOCK_Y_OUTPUT [s-trend]', ylim=(46.5, 58.75),
         yticks=[48, 50, 52, 54, 56, 58], ylabel='counts',
         draw=lambda ax: draw_osc(ax, pr2_lock_y_min, pr2_lock_y_max, '#1e9e6e', 1.2, 0.4)),
    dict(r=2, c=2, title='H1:SUS-PRM_M1_LOCK_Y_OUTPUT [s-trend]', ylim=(179.57, 180.14),
         yticks=[179.6, 179.8, 180.0], ylabel='counts',
         draw=lambda ax: draw_line(ax, prm_lock_y_v, '#c8d22a', 3 * PX, t=prm_lock_y_t)),
    dict(r=2, c=3, title='H1:SUS-IM4_M1_LOCK_Y_OUTPUT [s-trend]', ylim=(133.34, 137.97),
         yticks=[134, 136, 138], ylabel='counts',
         draw=lambda ax: draw_osc(ax, im4_lock_y_min, im4_lock_y_max, '#c77fae', 1.0, 0.2)),
    dict(r=2, c=4, ylim=(-0.596, -0.0945), yticks=[-0.6, -0.4, -0.2], ylabel='counts',
         legend=[('H1:ASC-POP_A_YAW_OUTPUT [s-trend]', '#6a6a28'),
                 ('H1:ASC-POP_B_YAW_OUTPUT [s-trend]', '#1ee6b4')],
         draw=lambda ax: (draw_osc(ax, pop_a_yaw_min, pop_a_yaw_max, '#6a6a28', 1.0, 0.5),
                          draw_osc(ax, pop_b_yaw_min, pop_b_yaw_max, '#1ee6b4', 1.0, 0.5))),
    # row 4
    dict(r=3, c=0, title='H1:SUS-PR3_M1_DAMP_Y_INMON [s-trend]', ylim=(53.87, 54.52),
         yticks=[54.0, 54.2, 54.4], ylabel='counts',
         draw=lambda ax: draw_band(ax, pr3_damp_y_min, pr3_damp_y_max, '#e0208c', '#6a1548', 2.0)),
    dict(r=3, c=1, title='H1:SUS-PR2_M1_DAMP_Y_INMON [s-trend]', ylim=(1364.56, 1369.7),
         yticks=[1366, 1368], ylabel='counts',
         draw=lambda ax: draw_band(ax, pr2_damp_y_min, pr2_damp_y_max, '#f6b8f0', '#7a5a78', 2.0)),
    dict(r=3, c=2, title='H1:SUS-PRM_M1_DAMP_Y_INMON [s-trend]', ylim=(440.55, 442.74),
         yticks=[441, 442], ylabel='counts',
         draw=lambda ax: draw_osc(ax, prm_damp_y_min, prm_damp_y_max, '#e03535', 1.0, 0.3)),
    dict(r=3, c=3, title='H1:SUS-IM4_M1_DAMP_Y_INMON [s-trend]', ylim=(241.942, 242.142),
         yticks=[242], ylabel='undef',
         draw=lambda ax: draw_osc(ax, im4_damp_y_min, im4_damp_y_max, '#ff2d12', 1.0, 0.3)),
    dict(r=3, c=4, ylim=(-29.9, 50.4), yticks=[-20, 0, 20, 40], ylabel='counts',
         legend=[('H1:CAL-CS_TDEP_KAPPA_C_OUTPUT [s-trend]', '#4a1a7e'),
                 ('H1:PEM-CS_ADC_5_28_2K_OUT_DQ [s-trend]', '#3cb44b')],
         draw=lambda ax: (draw_line(ax, pem_adc_max, '#1e5526', 2 * PX, ls=(0, (5, 2))),
                          draw_line(ax, pem_adc_min, '#1e5526', 2 * PX, ls=(0, (5, 2))),
                          draw_line(ax, kappa_c, '#4a1a7e', 5 * PX),
                          draw_line(ax, pem_adc_mean, '#3cb44b', 5 * PX))),
    # row 5
    dict(r=4, c=0, title='H1:GRD-ISC_LOCK_STATE_N [s-trend]', ylim=(-393, 369),
         yticks=[-200, 0, 200], ylabel='counts',
         draw=lambda ax: draw_line(ax, grd_state, '#b5a22e', 6 * PX)),
    dict(r=4, c=1, title='H1:ASC-POP_X_DC_NSUM_OUT16 [s-trend]', ylim=(-45.9, -21.6),
         yticks=[-40, -30], ylabel='counts (x1e-06)',
         draw=lambda ax: draw_band(ax, pop_x_dc_min, pop_x_dc_max, '#a8bb22', '#4e5614', 2.0)),
    dict(r=4, c=2, title='H1:ASC-AS_A_DC_NSUM_OUT16 [s-trend]', ylim=(62485, 66480),
         yticks=[63000, 64000, 65000, 66000], ylabel='counts',
         draw=lambda ax: draw_osc(ax, as_a_dc_min, as_a_dc_max, '#dcb66a', 1.2, 0.35)),
    dict(r=4, c=3, title='H1:SUS-ETMX_M0_LOCK_P_OUTPUT [s-trend]', ylim=(-125.08, -122.87),
         yticks=[-125, -124, -123], ylabel='counts',
         draw=lambda ax: draw_osc(ax, etmx_p_min, etmx_p_max, '#44e2c6')),
    dict(r=4, c=4, title='H1:SUS-ETMX_M0_LOCK_Y_OUTPUT [s-trend]', ylim=(-123.3, -115.95),
         yticks=[-122, -120, -118, -116], ylabel='counts',
         draw=lambda ax: draw_osc(ax, etmx_y_min, etmx_y_max, '#c0201c')),
    # row 6
    dict(r=5, c=0, title='H1:SUS-ETMY_M0_LOCK_P_OUTPUT [s-trend]', ylim=(-156.5, -153.0),
         yticks=[-156, -155, -154], ylabel='counts',
         draw=lambda ax: draw_osc(ax, etmy_p_min, etmy_p_max, '#c7a6c8')),
    dict(r=5, c=1, title='H1:SUS-ETMY_M0_LOCK_Y_OUTPUT [s-trend]', ylim=(103.66, 112.76),
         yticks=[104, 106, 108, 110, 112], ylabel='undef',
         draw=lambda ax: draw_osc(ax, etmy_y_min, etmy_y_max, '#e8e81e')),
    dict(r=5, c=2, title='H1:SUS-ITMX_M0_LOCK_P_OUTPUT [s-trend]', ylim=(-40.35, -37.83),
         yticks=[-40, -39, -38], ylabel='counts',
         draw=lambda ax: draw_osc(ax, itmx_p_min, itmx_p_max, '#2aa583')),
    dict(r=5, c=3, title='H1:SUS-ITMX_M0_LOCK_Y_OUTPUT [s-trend]', ylim=(-196.78, -191.38),
         yticks=[-196, -194, -192], ylabel='undef',
         draw=lambda ax: draw_osc(ax, itmx_y_min, itmx_y_max, '#9c88e8')),
    dict(r=5, c=4, title='H1:SUS-ITMY_M0_LOCK_P_OUTPUT [s-trend]', ylim=(2.81, 5.28),
         yticks=[3, 4, 5], ylabel='undef',
         draw=lambda ax: draw_osc(ax, itmy_p_min, itmy_p_max, '#e68a28')),
    # row 7
    dict(r=6, c=2, title='H1:SUS-SRM_M1_LOCK_Y_OUTPUT [s-trend]', ylim=(-20.39, -15.36),
         yticks=[-20, -18, -16], ylabel='counts',
         draw=lambda ax: draw_line(ax, srm_lock_y, '#b65cd8', 1.0)),
    dict(r=6, c=3, title='H1:SUS-SR2_M1_LOCK_Y_OUTPUT [s-trend]', ylim=(37.43, 38.035),
         yticks=[37.6, 37.8, 38.0], ylabel='counts',
         draw=lambda ax: draw_line(ax, sr2_lock_y, '#e255e2', 1.0)),
    dict(r=6, c=4, title='H1:SUS-ITMY_M0_LOCK_Y_OUTPUT [s-trend]', ylim=(-95.66, -89.18),
         yticks=[-94, -92, -90], ylabel='counts',
         draw=lambda ax: draw_osc(ax, itmy_y_min, itmy_y_max, '#c880b8')),
]

TXT = '#e8e8e8'
for p in panels:
    r, c = p['r'], p['c']
    left, right = panel_left[r][c], col_right[c]
    top, height = row_top[r], AX_H
    if 'legend' in p:
        top, height = top - 29, AX_H + 29
    ax = fig.add_axes([left / W, 1 - (top + height) / H, (right - left) / W, height / H])
    ax.set_facecolor('black')
    ax.set_xlim(*t_span)
    ax.set_ylim(*p['ylim'])
    ax.xaxis.set_major_locator(FixedLocator(x_ticks))
    ax.set_xticklabels(x_tick_labels)
    ax.xaxis.set_minor_locator(MultipleLocator(30))
    ax.yaxis.set_major_locator(FixedLocator(p['yticks']))
    ax.yaxis.set_major_formatter(FuncFormatter(lambda v, pos: f'{v:g}'))
    if len(p['yticks']) > 1:
        ax.yaxis.set_minor_locator(MultipleLocator((p['yticks'][1] - p['yticks'][0]) / 2))
    ax.grid(True, which='major', color='#3a3a3a', lw=0.8)
    ax.grid(True, which='minor', color='#1e1e1e', lw=0.6)
    ax.set_axisbelow(True)
    for s in ('top', 'right'):
        ax.spines[s].set_visible(False)
    for s in ('left', 'bottom'):
        ax.spines[s].set_color('#a8a8a8')
        ax.spines[s].set_linewidth(1.5)
    ax.tick_params(which='both', length=0, colors=TXT, labelsize=9.5, pad=4)
    ax.set_ylabel(p['ylabel'], color='#d0d0d0', fontsize=10)
    ax.yaxis.set_label_coords((ylabel_x[c] - left) / (right - left), 0.5)

    # clipped "0" at the right end of the time axis
    zero = ax.annotate('0', xy=(0, 0), xycoords=('data', 'axes fraction'), xytext=(0, -6),
                       textcoords='offset pixels', ha='center', va='top', color=TXT, fontsize=9.5)
    zero.set_clip_box(TransformedBbox(Bbox([[0, -1], [1, 2]]), ax.transAxes))
    zero.set_clip_on(True)

    p['draw'](ax)

    # cursors
    for tc in (t1_cursor, t2_cursor):
        ax.axvline(tc, color='white', lw=1.6, dashes=(4.5, 1.2), zorder=4)
    ax.annotate('ΔT=', xy=(-268, 1), xycoords=('data', 'axes fraction'), xytext=(0, -26),
                textcoords='offset pixels', ha='right', va='center', color='white',
                fontsize=9.5, zorder=7)
    ax.annotate(dt_label, xy=(-263, 1), xycoords=('data', 'axes fraction'), xytext=(0, -26),
                textcoords='offset pixels', ha='left', va='center', color='white',
                fontsize=9.5, linespacing=1.55, zorder=7,
                bbox=dict(boxstyle='square,pad=0.25', fc='black', ec='none', alpha=0.55))
    ax.annotate(t1_label, xy=(t1_cursor, 0), xycoords=('data', 'axes fraction'), xytext=(4, 11),
                textcoords='offset pixels', ha='left', va='center', color='white',
                fontsize=9.5, zorder=7,
                bbox=dict(boxstyle='square,pad=0.15', fc='black', ec='none', alpha=0.55))
    ax.annotate(t2_label, xy=(t2_cursor, 0), xycoords=('data', 'axes fraction'), xytext=(-5, 11),
                textcoords='offset pixels', ha='right', va='center', color='white',
                fontsize=9.5, zorder=8,
                bbox=dict(boxstyle='square,pad=0.15', fc='black', ec='none', alpha=0.82))

    if 'legend' in p:
        handles = [Patch(facecolor=col, edgecolor='none') for _, col in p['legend']]
        leg = ax.legend(handles, [lab for lab, _ in p['legend']], loc='upper left',
                        bbox_to_anchor=(0.02, 0.93), borderaxespad=0, fontsize=9.3,
                        labelcolor='#e0e0e0', handlelength=1.1, handleheight=1.35,
                        handletextpad=0.7, labelspacing=0.75, borderpad=0.9,
                        fancybox=False, framealpha=0.85, facecolor='#161616',
                        edgecolor='#4a4a4a')
        leg.set_zorder(6)
    else:
        ax.annotate(p['title'], xy=(0.5, 1), xycoords='axes fraction', xytext=(0, 15),
                    textcoords='offset pixels', ha='center', va='center', color=TXT,
                    fontsize=8.5)

# t0 line
bg.text(1273, 1233, t0_label, ha='center', va='center', color='#dddddd', fontsize=10.5)

# window title bar
bg.add_patch(Rectangle((0, 0), W, 27, fc='#d9d9d9', ec='none'))
bg.add_patch(Rectangle((0, 27), W, 3, fc='#efefef', ec='none'))
bg.add_patch(Rectangle((-4, 5), 11, 17, fc='white', ec='#999999', lw=0.8))
title_txt = bg.text(28, 14, window_title, ha='left', va='center', color='#303030',
                    fontsize=10.5, fontweight='bold', family='DejaVu Sans')
fig.canvas.draw()
w_now = title_txt.get_window_extent().width
title_txt.set_fontsize(10.5 * (2455 - 28) / w_now)
bg.add_patch(Rectangle((2460, 0), W - 2460, 27, fc='#d9d9d9', ec='none', zorder=5))
for xb, glyph in zip([2472, 2494, 2517, 2541], ['^', '_', '▫', '×']):
    bg.text(xb, 13, glyph, ha='center', va='center', color='#303030', fontsize=10,
            family='DejaVu Sans', zorder=6)

# bottom tab bar
bg.add_patch(Rectangle((0, 1259), W, H - 1259, fc='#efefef', ec='none'))
bg.add_patch(Rectangle((0, 1262), 94, 22, fc='#ececec', ec='#c2c2c2', lw=0.8))
bg.text(6, 1278, '▷ start online', ha='left', va='center', color='#a8a8a8', fontsize=9)
tab_edges = [101, 156, 225, 282, 346, 422, 496, 547, 609]
for i, name in enumerate(tab_names):
    x0, x1 = tab_edges[i], tab_edges[i + 1]
    bg.add_patch(Rectangle((x0, 1262), x1 - x0, 22, fc='white' if i == 0 else '#e6e6e6',
                           ec='#bdbdbd', lw=0.8))
    bg.text((x0 + x1) / 2, 1277, name, ha='center', va='center', color='#222222', fontsize=9.5)

fig.savefig('out.png', dpi=100, facecolor='black')
